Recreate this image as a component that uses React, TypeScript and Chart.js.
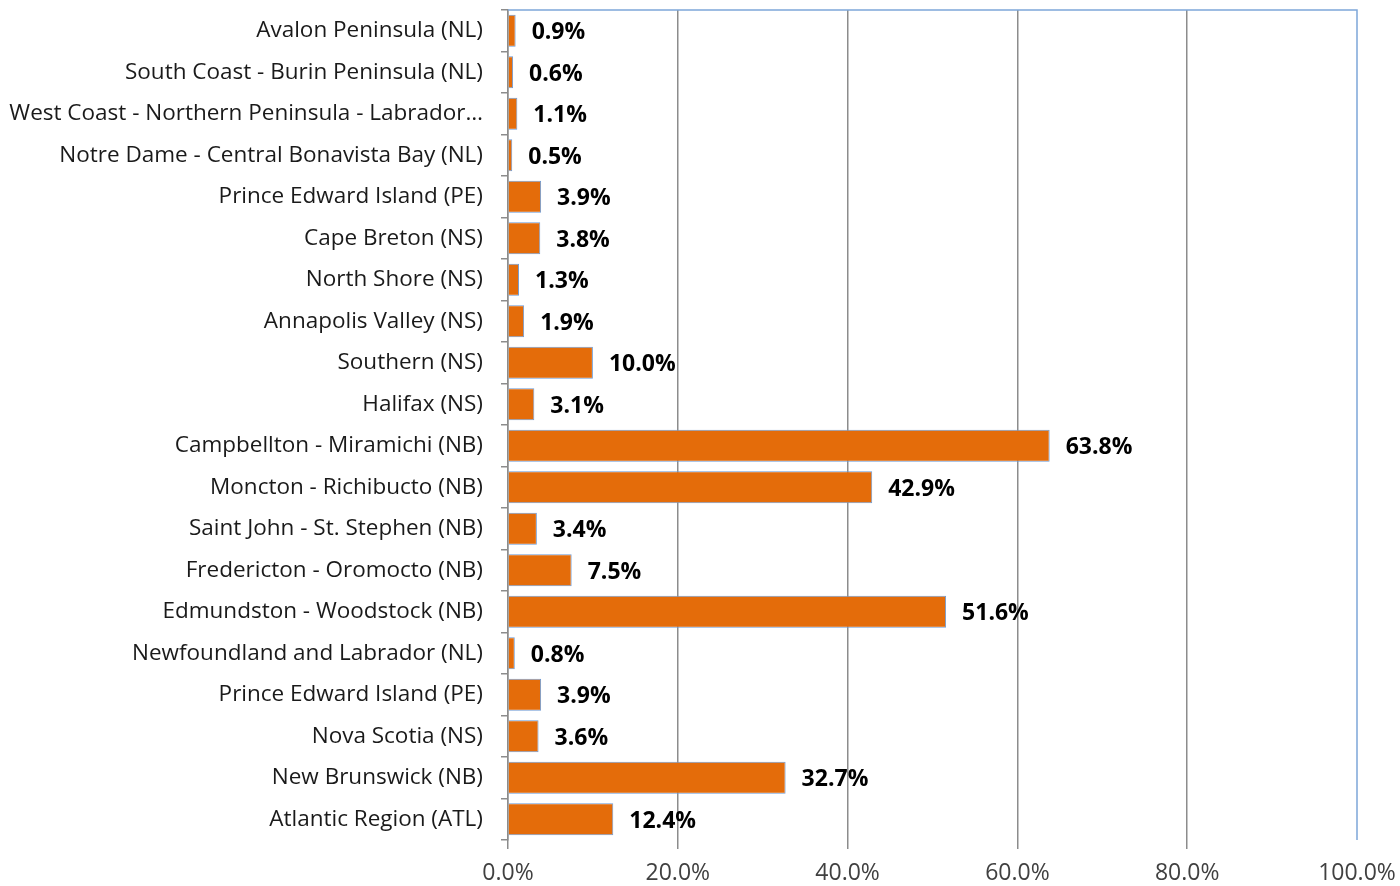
import React, { useEffect, useRef } from "react";
import { Chart, registerables } from "chart.js";

Chart.register(...registerables);

const categories: string[] = [
  "Avalon Peninsula (NL)",
  "South Coast - Burin Peninsula (NL)",
  "West Coast - Northern Peninsula - Labrador…",
  "Notre Dame - Central Bonavista Bay (NL)",
  "Prince Edward Island (PE)",
  "Cape Breton (NS)",
  "North Shore (NS)",
  "Annapolis Valley (NS)",
  "Southern (NS)",
  "Halifax (NS)",
  "Campbellton - Miramichi (NB)",
  "Moncton - Richibucto (NB)",
  "Saint John - St. Stephen (NB)",
  "Fredericton - Oromocto (NB)",
  "Edmundston - Woodstock (NB)",
  "Newfoundland and Labrador (NL)",
  "Prince Edward Island (PE)",
  "Nova Scotia (NS)",
  "New Brunswick (NB)",
  "Atlantic Region (ATL)",
];

const values: number[] = [
  0.9, 0.6, 1.1, 0.5, 3.9, 3.8, 1.3, 1.9, 10.0, 3.1, 63.8, 42.9, 3.4, 7.5, 51.6,
  0.8, 3.9, 3.6, 32.7, 12.4,
];

const xTicks: number[] = [0, 20, 40, 60, 80, 100];

const FONT = "'Open Sans', sans-serif";

const labelPlugin = {
  id: "barLabels",
  afterDatasetsDraw(chart: any) {
    const ctx = chart.ctx;
    const meta = chart.getDatasetMeta(0);
    ctx.save();
    ctx.font = `bold 23px ${FONT}`;
    ctx.fillStyle = "#000000";
    ctx.textAlign = "left";
    ctx.textBaseline = "middle";
    meta.data.forEach((bar: any, i: number) => {
      ctx.fillText(values[i].toFixed(1) + "%", bar.x + 16, bar.y + 2);
    });
    ctx.restore();
  },
};

const borderPlugin = {
  id: "plotBorder",
  afterDraw(chart: any) {
    const { ctx, chartArea } = chart;
    ctx.save();
    ctx.strokeStyle = "#7EA6D9";
    ctx.lineWidth = 1.5;
    ctx.beginPath();
    ctx.moveTo(chartArea.left, chartArea.top);
    ctx.lineTo(chartArea.right, chartArea.top);
    ctx.lineTo(chartArea.right, chartArea.bottom);
    ctx.stroke();
    ctx.restore();
  },
};

export default function App() {
  const canvasRef = useRef<HTMLCanvasElement | null>(null);

  useEffect(() => {
    if (!canvasRef.current) return;
    const chart = new Chart(canvasRef.current, {
      type: "bar",
      data: {
        labels: categories,
        datasets: [
          {
            data: values,
            backgroundColor: "#E46C0A",
            borderColor: "#6F9BD4",
            borderWidth: 1,
            barPercentage: 0.77,
            categoryPercentage: 1,
          },
        ],
      },
      options: {
        indexAxis: "y",
        animation: false,
        responsive: false,
        maintainAspectRatio: false,
        layout: { padding: { top: 10, right: 43, left: 0, bottom: 0 } },
        plugins: {
          legend: { display: false },
          tooltip: { enabled: false },
        },
        scales: {
          x: {
            min: 0,
            max: 100,
            afterBuildTicks: (scale: any) => {
              scale.ticks = xTicks.map((v) => ({ value: v }));
            },
            afterFit: (scale: any) => {
              scale.height = 46;
              scale.paddingLeft = 0;
              scale.paddingRight = 0;
            },
            ticks: {
              callback: (v: any) => Number(v).toFixed(1) + "%",
              font: { family: FONT, size: 23 },
              color: "#404040",
              padding: 11,
              maxRotation: 0,
            },
            grid: {
              color: (c: any) => (c.tick && c.tick.value === 100 ? "rgba(0,0,0,0)" : "#8C8C8C"),
              lineWidth: 1.5,
              tickLength: 9,
              drawTicks: true,
            },
            border: { display: false },
          },
          y: {
            afterFit: (scale: any) => {
              scale.width = 508;
              scale.paddingTop = 0;
              scale.paddingBottom = 0;
            },
            ticks: {
              font: { family: FONT, size: 22.5 },
              color: "#1A1A1A",
              padding: 18,
              autoSkip: false,
            },
            grid: {
              offset: true,
              drawOnChartArea: false,
              drawTicks: true,
              tickLength: 7,
              color: "#8C8C8C",
              lineWidth: 1.5,
            },
            border: { display: true, color: "#8C8C8C", width: 1.5 },
          },
        },
      },
      plugins: [labelPlugin, borderPlugin],
    });
    return () => chart.destroy();
  }, []);

  return (
    <div style={{ position: "absolute", left: 0, top: 0, width: 1400, height: 886, background: "#fff" }}>
      <canvas ref={canvasRef} width={1400} height={886} style={{ width: 1400, height: 886 }} />
    </div>
  );
}
